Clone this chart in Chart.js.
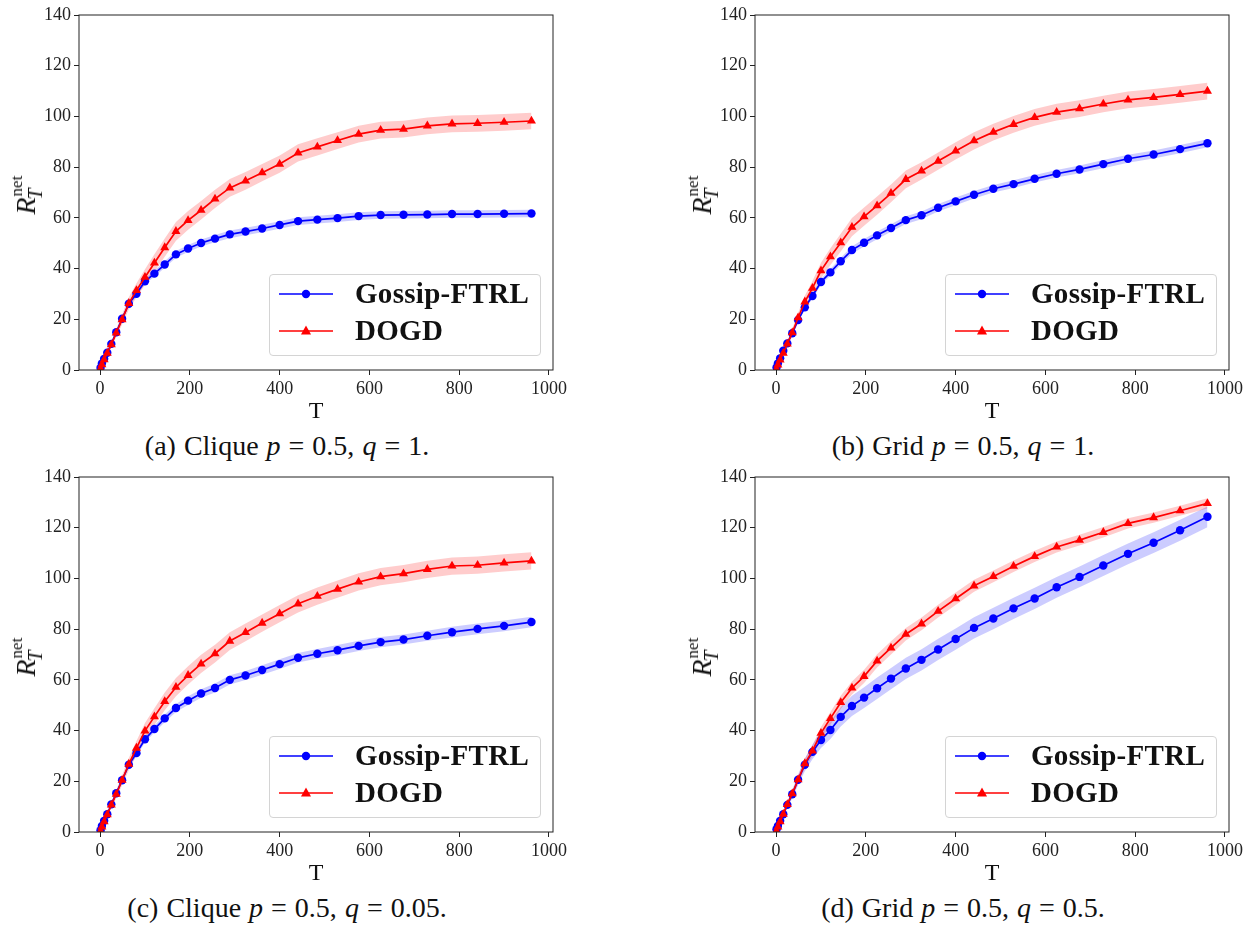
<!DOCTYPE html>
<html>
<head>
  <meta charset="UTF-8">
  <title>Gossip-FTRL vs DOGD</title>
  <script src="https://cdn.jsdelivr.net/npm/chart.js"></script>
  <style>
    body {
      margin: 0;
      background: #ffffff;
      font-family: "Liberation Serif", serif;
      color: #111;
    }

    #fig {
      position: relative;
      width: 1260px;
      height: 930px;
    }

    .panel {
      position: absolute;
      width: 676px;
      height: 462px;
    }

    .chartbox {
      position: absolute;
      left: 0;
      top: 0;
      width: 620px;
      height: 430px;
    }

    .ylabel {
      position: absolute;
      left: 26px;
      top: 192px;
      transform: translate(-50%, -50%) rotate(-90deg);
      white-space: nowrap;
      font-size: 28px;
      line-height: 1;
    }
    .ylabel .stk {
      display: inline-block;
      position: relative;
      width: 28px;
      height: 28px;
      vertical-align: top;
    }
    .ylabel .sup {
      position: absolute;
      left: 1px;
      top: -4px;
      font-size: 17px;
      font-style: normal;
    }
    .ylabel .sub {
      position: absolute;
      left: -2px;
      top: 13px;
      font-size: 20px;
      font-style: italic;
    }

    .legend {
      position: absolute;
      left: 269px;
      top: 274px;
      width: 270px;
      height: 80px;
      border: 1px solid #d4d4d4;
      border-radius: 4px;
      background: rgba(255, 255, 255, 0.8);
    }
    .legend svg {
      position: absolute;
      left: 9px;
    }
    .legend span {
      position: absolute;
      left: 85px;
      font-weight: bold;
      font-size: 29px;
      line-height: 29px;
      letter-spacing: 0.3px;
      white-space: nowrap;
    }

    .caption {
      position: absolute;
      left: -33px;
      top: 432px;
      width: 640px;
      text-align: center;
      font-size: 28px;
      line-height: 28px;
      word-spacing: 1px;
      white-space: nowrap;
    }
  </style>
</head>
<body>

<div id="fig">
  <!-- (a) -->
  <div class="panel" style="left:0px; top:0px">
    <div class="chartbox"><canvas id="chartA"></canvas></div>
    <div class="ylabel"><i>R</i><span class="stk"><span class="sup">net</span><span class="sub">T</span></span></div>
    <div class="legend" id="legA"></div>
    <div class="caption">(a) Clique <i>p</i> = 0.5, <i>q</i> = 1.</div>
  </div>
  <!-- (b) -->
  <div class="panel" style="left:676px; top:0px">
    <div class="chartbox"><canvas id="chartB"></canvas></div>
    <div class="ylabel"><i>R</i><span class="stk"><span class="sup">net</span><span class="sub">T</span></span></div>
    <div class="legend" id="legB"></div>
    <div class="caption">(b) Grid <i>p</i> = 0.5, <i>q</i> = 1.</div>
  </div>
  <!-- (c) -->
  <div class="panel" style="left:0px; top:462px">
    <div class="chartbox"><canvas id="chartC"></canvas></div>
    <div class="ylabel"><i>R</i><span class="stk"><span class="sup">net</span><span class="sub">T</span></span></div>
    <div class="legend" id="legC"></div>
    <div class="caption">(c) Clique <i>p</i> = 0.5, <i>q</i> = 0.05.</div>
  </div>
  <!-- (d) -->
  <div class="panel" style="left:676px; top:462px">
    <div class="chartbox"><canvas id="chartD"></canvas></div>
    <div class="ylabel"><i>R</i><span class="stk"><span class="sup">net</span><span class="sub">T</span></span></div>
    <div class="legend" id="legD"></div>
    <div class="caption">(d) Grid <i>p</i> = 0.5, <i>q</i> = 0.5.</div>
  </div>
</div>

<script>
  // horizon values (T) shared by every panel
  const Ts = [1, 4, 9, 16, 25, 36, 49, 64, 81, 100, 121, 144, 169, 196, 225, 256,
              289, 324, 361, 400, 441, 484, 529, 576, 625, 676, 729, 784, 841, 900, 961];
  const xTicks = [0, 200, 400, 600, 800, 1000];
  const yTicks = [0, 20, 40, 60, 80, 100, 120, 140];
  const seriesNames = ['Gossip-FTRL', 'DOGD'];

  // (a) Clique p=0.5, q=1
  const aGossip = [0.9, 2.6, 4.4, 6.8, 10.3, 14.9, 20.2, 26.1, 30.1, 35.0, 38.0, 41.6, 45.6, 47.9, 50.1, 51.8,
                   53.5, 54.6, 55.8, 57.2, 58.7, 59.3, 59.9, 60.7, 61.1, 61.2, 61.3, 61.5, 61.5, 61.6, 61.7];
  const aGossipSd = [0.2, 0.3, 0.4, 0.5, 0.6, 0.7, 0.8, 0.9, 1.0, 1.1, 1.2, 1.3, 1.3, 1.4, 1.4, 1.4,
                     1.5, 1.5, 1.5, 1.5, 1.5, 1.5, 1.5, 1.5, 1.5, 1.5, 1.5, 1.5, 1.5, 1.5, 1.5];
  const aDogd = [0.5, 2.1, 4.1, 6.6, 10.0, 14.6, 19.9, 26.3, 31.4, 36.6, 42.2, 48.3, 54.7, 59.0, 63.0, 67.5,
                 71.8, 74.6, 77.8, 81.2, 85.6, 88.0, 90.5, 93.0, 94.6, 95.0, 96.3, 97.1, 97.3, 97.7, 98.2];
  const aDogdSd = [0.2, 0.4, 0.6, 0.9, 1.2, 1.6, 2.0, 2.4, 2.8, 3.1, 3.4, 3.6, 3.7, 3.7, 3.6, 3.6,
                   3.5, 3.5, 3.4, 3.4, 3.4, 3.4, 3.3, 3.3, 3.3, 3.3, 3.3, 3.3, 3.3, 3.3, 3.3];

  // (b) Grid p=0.5, q=1
  const bGossip = [1.0, 2.6, 4.6, 7.6, 10.5, 14.5, 19.7, 24.7, 29.2, 34.7, 38.5, 42.9, 47.3, 50.2, 53.1, 56.0,
                   59.1, 61.0, 64.0, 66.5, 69.1, 71.5, 73.3, 75.4, 77.4, 79.1, 81.2, 83.3, 85.0, 87.1, 89.4];
  const bGossipSd = [0.2, 0.3, 0.4, 0.5, 0.6, 0.7, 0.9, 1.0, 1.1, 1.2, 1.3, 1.4, 1.5, 1.5, 1.5, 1.5,
                     1.5, 1.5, 1.5, 1.5, 1.5, 1.5, 1.5, 1.5, 1.5, 1.5, 1.6, 1.6, 1.6, 1.6, 1.6];
  const bDogd = [0.3, 2.0, 4.0, 6.6, 10.3, 14.7, 20.6, 26.9, 32.3, 39.2, 44.7, 50.2, 56.3, 60.5, 64.8, 69.7,
                 75.2, 78.5, 82.4, 86.4, 90.4, 93.8, 96.9, 99.6, 101.7, 103.1, 104.9, 106.5, 107.5, 108.7, 110.0];
  const bDogdSd = [0.2, 0.4, 0.6, 0.9, 1.2, 1.6, 2.0, 2.4, 2.8, 3.1, 3.3, 3.5, 3.6, 3.6, 3.6, 3.5,
                   3.5, 3.4, 3.4, 3.4, 3.4, 3.3, 3.3, 3.3, 3.3, 3.3, 3.3, 3.3, 3.3, 3.3, 3.3];

  // (c) Clique p=0.5, q=0.05
  const cGossip = [0.7, 2.4, 4.4, 7.0, 10.9, 15.3, 20.4, 26.5, 31.1, 36.6, 40.6, 44.8, 48.9, 51.8, 54.6, 56.8,
                   60.0, 61.7, 63.9, 66.2, 68.7, 70.3, 71.7, 73.4, 74.9, 75.9, 77.4, 78.8, 80.1, 81.3, 82.8];
  const cGossipSd = [0.2, 0.3, 0.4, 0.5, 0.6, 0.8, 0.9, 1.0, 1.2, 1.3, 1.4, 1.5, 1.6, 1.7, 1.7, 1.8,
                     1.8, 1.8, 1.9, 1.9, 1.9, 1.9, 2.0, 2.0, 2.0, 2.0, 2.0, 2.1, 2.1, 2.1, 2.1];
  const cDogd = [0.3, 2.0, 4.1, 6.8, 10.7, 14.9, 20.4, 26.8, 33.1, 39.9, 45.5, 51.5, 57.1, 61.8, 66.3, 70.3,
                 75.3, 78.7, 82.4, 86.1, 90.0, 93.0, 95.8, 98.6, 100.7, 101.9, 103.6, 104.9, 105.2, 106.1, 106.9];
  const cDogdSd = [0.2, 0.4, 0.6, 0.9, 1.2, 1.6, 2.0, 2.4, 2.8, 3.1, 3.3, 3.5, 3.6, 3.6, 3.6, 3.5,
                   3.5, 3.5, 3.4, 3.4, 3.4, 3.4, 3.4, 3.4, 3.4, 3.4, 3.4, 3.4, 3.4, 3.4, 3.4];

  // (d) Grid p=0.5, q=0.5
  const dGossip = [1.1, 2.4, 4.4, 7.0, 10.7, 14.9, 20.6, 26.5, 31.6, 36.3, 40.2, 45.4, 49.7, 53.0, 56.7, 60.5,
                   64.5, 67.9, 72.0, 76.1, 80.5, 84.2, 88.2, 92.1, 96.5, 100.6, 105.1, 109.7, 114.1, 119.0, 124.3];
  const dGossipSd = [0.3, 0.5, 0.7, 1.0, 1.3, 1.7, 2.1, 2.5, 2.9, 3.2, 3.5, 3.8, 4.0, 4.1, 4.2, 4.2,
                     4.2, 4.2, 4.2, 4.2, 4.2, 4.2, 4.2, 4.2, 4.1, 4.1, 4.1, 4.1, 4.1, 4.1, 4.1];
  const dDogd = [0.4, 2.0, 4.1, 7.0, 10.9, 15.1, 20.6, 27.0, 32.0, 39.0, 44.8, 51.1, 56.8, 61.4, 67.5, 72.6,
                 78.0, 82.1, 87.1, 92.0, 97.1, 100.8, 104.8, 108.7, 112.4, 115.1, 118.2, 121.7, 124.0, 126.7, 129.6];
  const dDogdSd = [0.2, 0.4, 0.6, 0.8, 1.0, 1.3, 1.6, 1.9, 2.2, 2.4, 2.5, 2.6, 2.6, 2.6, 2.6, 2.6,
                   2.5, 2.5, 2.5, 2.5, 2.4, 2.3, 2.3, 2.2, 2.2, 2.1, 2.1, 2.0, 2.0, 2.0, 2.0];

  const BLUE = '#0000ff';
  const RED = '#ff0000';
  const tickFont = { family: 'Liberation Serif', size: 18 };

  // draws the full box around the axes (matplotlib spines)
  const framePlugin = {
    id: 'frame',
    afterDraw(chart) {
      const { ctx, chartArea: a } = chart;
      ctx.save();
      ctx.strokeStyle = '#222';
      ctx.lineWidth = 1;
      ctx.strokeRect(a.left, a.top, a.right - a.left, a.bottom - a.top);
      ctx.restore();
    }
  };

  function points(vals) {
    return Ts.map((t, i) => ({ x: t, y: vals[i] }));
  }

  function bandEdge(vals, sd, sign) {
    return Ts.map((t, i) => ({ x: t, y: vals[i] + sign * sd[i] }));
  }

  function makeChart(id, gossip, gossipSd, dogd, dogdSd) {
    const ctx = document.getElementById(id).getContext('2d');
    new Chart(ctx, {
      type: 'line',
      data: {
        datasets: [
          { label: seriesNames[1], data: points(dogd), borderColor: RED, backgroundColor: RED,
            borderWidth: 1.7, pointStyle: 'triangle', pointRadius: 5.2, pointBorderWidth: 0, fill: false },
          { label: seriesNames[0], data: points(gossip), borderColor: BLUE, backgroundColor: BLUE,
            borderWidth: 1.7, pointStyle: 'circle', pointRadius: 4.2, pointBorderWidth: 0, fill: false },
          { data: bandEdge(dogd, dogdSd, 1), borderWidth: 0, pointRadius: 0, fill: '+1',
            backgroundColor: 'rgba(255, 0, 0, 0.2)' },
          { data: bandEdge(dogd, dogdSd, -1), borderWidth: 0, pointRadius: 0, fill: false },
          { data: bandEdge(gossip, gossipSd, 1), borderWidth: 0, pointRadius: 0, fill: '+1',
            backgroundColor: 'rgba(0, 0, 255, 0.2)' },
          { data: bandEdge(gossip, gossipSd, -1), borderWidth: 0, pointRadius: 0, fill: false }
        ]
      },
      options: {
        responsive: true,
        maintainAspectRatio: false,
        animation: false,
        layout: { padding: { top: 15, right: 67, bottom: 0, left: 0 } },
        plugins: {
          legend: { display: false },
          tooltip: { enabled: false }
        },
        scales: {
          x: {
            type: 'linear',
            min: -47,
            max: 1009,
            afterBuildTicks: s => { s.ticks = xTicks.map(v => ({ value: v })); },
            afterFit: s => { s.height = 60; },
            border: { display: false },
            grid: { drawOnChartArea: false, drawTicks: true, tickLength: 5, color: '#222' },
            ticks: { color: '#222', font: tickFont, padding: 3, maxRotation: 0, autoSkip: false,
                     callback: v => String(v) },
            title: { display: true, text: 'T', color: '#111',
                     font: { family: 'Liberation Serif', size: 24 }, padding: { top: 0, bottom: 4 } }
          },
          y: {
            min: 0,
            max: 140,
            afterBuildTicks: s => { s.ticks = yTicks.map(v => ({ value: v })); },
            afterFit: s => { s.width = 79; },
            border: { display: false },
            grid: { drawOnChartArea: false, drawTicks: true, tickLength: 5, color: '#222' },
            ticks: { color: '#222', font: tickFont, padding: 3, callback: v => String(v) }
          }
        }
      },
      plugins: [framePlugin]
    });
  }

  // legend box drawn in the lower right of each axes
  function makeLegend(id) {
    const el = document.getElementById(id);
    el.innerHTML =
      '<svg width="56" height="20" style="top:9px">' +
        '<line x1="0" y1="10" x2="54" y2="10" stroke="' + BLUE + '" stroke-width="1.7"/>' +
        '<circle cx="27" cy="10" r="4.2" fill="' + BLUE + '"/></svg>' +
      '<span style="top:4px">' + seriesNames[0] + '</span>' +
      '<svg width="56" height="20" style="top:46px">' +
        '<line x1="0" y1="10" x2="54" y2="10" stroke="' + RED + '" stroke-width="1.7"/>' +
        '<polygon points="27,4.5 32,13.5 22,13.5" fill="' + RED + '"/></svg>' +
      '<span style="top:41px">' + seriesNames[1] + '</span>';
  }

  document.addEventListener("DOMContentLoaded", function () {
    makeChart('chartA', aGossip, aGossipSd, aDogd, aDogdSd);
    makeChart('chartB', bGossip, bGossipSd, bDogd, bDogdSd);
    makeChart('chartC', cGossip, cGossipSd, cDogd, cDogdSd);
    makeChart('chartD', dGossip, dGossipSd, dDogd, dDogdSd);
    ['legA', 'legB', 'legC', 'legD'].forEach(makeLegend);
  });
</script>

</body>
</html>
